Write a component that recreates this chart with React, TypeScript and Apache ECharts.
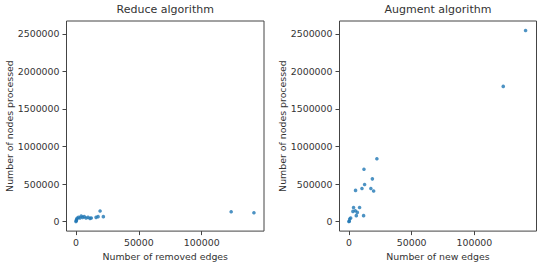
import React, { useEffect, useRef } from "react";
import * as echarts from "echarts";

// Reduce algorithm: removed edges vs. nodes processed
const reduceEdges = [0, 300, 500, 900, 2000, 3200, 4200, 5300, 6600, 8000, 9600, 11200, 12200, 16000, 17600, 19200, 21800, 123400, 141500];
const reduceNodes = [0, 12000, 26000, 43000, 56000, 47000, 74000, 56000, 65000, 47000, 56000, 43000, 47000, 56000, 65000, 140000, 65000, 130000, 118000];

// Augment algorithm: new edges vs. nodes processed
const augmentEdges = [0, 300, 600, 1400, 3200, 3700, 5100, 6700, 5900, 8500, 11700, 5300, 10400, 12500, 12000, 17500, 18700, 19700, 22300, 123000, 140800];
const augmentNodes = [0, 4000, 34000, 47000, 135000, 188000, 144000, 122000, 79000, 188000, 79000, 415000, 441000, 494000, 696000, 441000, 569000, 407000, 836000, 1800000, 2544000];

const xTicks = [0, 50000, 100000];
const yTicks = [0, 500000, 1000000, 1500000, 2000000, 2500000];

const panelTitles = ["Reduce algorithm", "Augment algorithm"];
const xNames = ["Number of removed edges", "Number of new edges"];
const yName = "Number of nodes processed";

const FONT = "DejaVu Sans";
const TEXT = "#333";
const FRAME = "#444";
const DOT = "#1f77b4";

function zip(xs: number[], ys: number[]) {
  return xs.map((x, i) => [x, ys[i]]);
}

export default function App() {
  const ref = useRef<HTMLDivElement>(null);

  useEffect(() => {
    if (!ref.current) return;
    const chart = echarts.init(ref.current, undefined, { renderer: "svg" });

    const grids = [
      { left: 66.5, top: 21, width: 197.5, height: 213 },
      { left: 339.5, top: 21, width: 197, height: 213 },
    ];

    const xAxis = grids.map((_, i) => ({
      type: "value" as const,
      gridIndex: i,
      position: "bottom" as const,
      min: -7500,
      max: 149500,
      name: xNames[i],
      nameLocation: "middle" as const,
      nameGap: 19,
      nameTextStyle: { fontFamily: FONT, fontSize: 9.4, color: TEXT },
      axisLine: { show: false, onZero: false },
      splitLine: { show: false },
      axisTick: {
        show: true,
        inside: false,
        length: 4,
        customValues: xTicks,
        lineStyle: { color: FRAME, width: 1 },
      },
      axisLabel: {
        customValues: xTicks,
        margin: 7,
        fontFamily: FONT,
        fontSize: 9.4,
        color: TEXT,
        formatter: (v: number) => String(v),
      },
    }));

    const yAxis = grids.map((_, i) => ({
      type: "value" as const,
      gridIndex: i,
      position: "left" as const,
      min: -127000,
      max: 2671000,
      name: yName,
      nameLocation: "middle" as const,
      nameGap: 53,
      nameTextStyle: { fontFamily: FONT, fontSize: 9.4, color: TEXT },
      axisLine: { show: false, onZero: false },
      splitLine: { show: false },
      axisTick: {
        show: true,
        inside: false,
        length: 4,
        customValues: yTicks,
        lineStyle: { color: FRAME, width: 1 },
      },
      axisLabel: {
        customValues: yTicks,
        margin: 7,
        fontFamily: FONT,
        fontSize: 9.4,
        color: TEXT,
        formatter: (v: number) => String(v),
      },
    }));

    chart.setOption({
      animation: false,
      backgroundColor: "#fff",
      title: panelTitles.map((t, i) => ({
        text: t,
        left: grids[i].left + grids[i].width / 2,
        textAlign: "center",
        top: 4,
        padding: 0,
        textStyle: { fontFamily: FONT, fontSize: 11, fontWeight: "normal", color: TEXT },
      })),
      grid: grids.map((g) => ({
        ...g,
        show: true,
        borderColor: FRAME,
        borderWidth: 1,
        backgroundColor: "transparent",
        containLabel: false,
      })),
      xAxis,
      yAxis,
      series: [
        {
          type: "scatter",
          xAxisIndex: 0,
          yAxisIndex: 0,
          data: zip(reduceEdges, reduceNodes),
          symbolSize: 3.6,
          itemStyle: { color: DOT },
        },
        {
          type: "scatter",
          xAxisIndex: 1,
          yAxisIndex: 1,
          data: zip(augmentEdges, augmentNodes),
          symbolSize: 3.6,
          itemStyle: { color: DOT },
        },
      ],
    });

    return () => chart.dispose();
  }, []);

  return (
    <div
      ref={ref}
      style={{ position: "absolute", left: 0, top: 0, width: 539, height: 266 }}
    />
  );
}
